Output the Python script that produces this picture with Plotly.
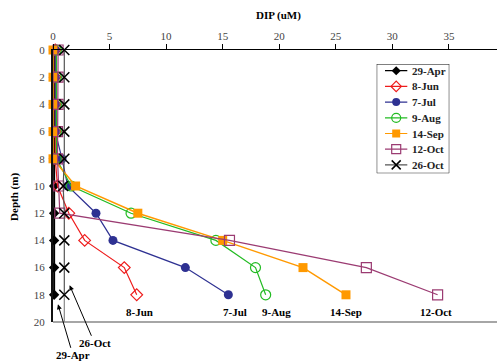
import plotly.graph_objects as go

# Sampling depths (m)
depths = [0, 2, 4, 6, 8, 10, 12, 14, 16, 18]

# Dissolved inorganic phosphorus (uM) per sampling date
apr29 = [0.1, 0.1, 0.1, 0.1, 0.1, 0.1, 0.1, 0.1, 0.1, 0.1]
jun8 = [0.2, 0.2, 0.2, 0.2, 0.2, 0.4, 1.4, 2.8, 6.3, 7.4]
jul7 = [0.2, 0.2, 0.2, 0.2, 0.8, 1.3, 3.8, 5.3, 11.7, 15.5]
aug9 = [0.3, 0.3, 0.3, 0.3, 0.3, 1.6, 6.9, 14.4, 17.9, 18.8]
sep14 = [0.0, 0.0, 0.0, 0.0, 0.0, 2.0, 7.5, 15.0, 22.1, 25.9]
oct12 = [0.45, 0.45, 0.45, 0.4, 0.4, 0.5, 0.6, 15.6, 27.7, 34.0]
oct26 = [1.0, 1.0, 1.0, 1.0, 1.0, 0.9, 1.0, 1.0, 1.0, 1.0]

x_ticks = [0, 5, 10, 15, 20, 25, 30, 35]
y_ticks = [0, 2, 4, 6, 8, 10, 12, 14, 16, 18, 20]

# Date labels placed beneath the deepest sample of each profile
bottom_labels = ["8-Jun", "7-Jul", "9-Aug", "14-Sep", "12-Oct"]
bottom_label_x = [7.65, 16.1, 19.8, 25.9, 33.9]

SERIF = "Liberation Serif, Times New Roman, serif"

series = [
    ("29-Apr", apr29, "#000000", dict(symbol="diamond", size=8, color="#000000"), 2),
    ("8-Jun", jun8, "#ee1c1c", dict(symbol="diamond-open", size=9, color="#ee1c1c", line=dict(width=1.2)), 1.2),
    ("7-Jul", jul7, "#2e3192", dict(symbol="circle", size=9, color="#2e3192"), 1.2),
    ("9-Aug", aug9, "#22bb22", dict(symbol="circle-open", size=10, color="#22bb22", line=dict(width=1.2)), 1.2),
    ("14-Sep", sep14, "#ff9900", dict(symbol="square", size=9, color="#ff9900"), 1.5),
    ("12-Oct", oct12, "#9b3b72", dict(symbol="square-open", size=10, color="#9b3b72", line=dict(width=1.2)), 1.2),
    ("26-Oct", oct26, "#555555", dict(symbol="x-thin-open", size=10, color="#000000", line=dict(width=1.5, color="#000000")), 1.2),
]

fig = go.Figure()
for name, vals, color, marker, lw in series:
    fig.add_trace(go.Scatter(
        x=vals, y=depths, name=name, mode="lines+markers",
        line=dict(color=color, width=lw), marker=marker, cliponaxis=False,
        showlegend=False,
    ))

# Compact boxed key drawn on its own hidden axes (units are pixels of the key box)
KEY_W, KEY_H = 72.6, 109.3
KEY_ROW0, KEY_ROW_STEP = 6.7, 15.7
for i, (name, vals, color, marker, lw) in enumerate(series):
    yk = KEY_ROW0 + i * KEY_ROW_STEP
    key_marker = dict(marker)
    key_marker["size"] = marker["size"] - 1
    fig.add_trace(go.Scatter(
        x=[8.3, 19.5, 30.6], y=[yk, yk, yk], mode="lines+markers",
        line=dict(color=color, width=1.2),
        marker=key_marker,
        selectedpoints=[1], unselected=dict(marker=dict(opacity=0)),
        xaxis="x2", yaxis="y2", showlegend=False, hoverinfo="skip", cliponaxis=False,
    ))

annotations = []
for i, (name, *_rest) in enumerate(series):
    annotations.append(dict(
        x=33.0, y=KEY_ROW0 + i * KEY_ROW_STEP, xref="x2", yref="y2", text=f"<b>{name}</b>",
        xanchor="left", yanchor="middle", showarrow=False,
        font=dict(family=SERIF, size=11, color="#222222"),
    ))

for txt, xv in zip(bottom_labels, bottom_label_x):
    annotations.append(dict(
        x=xv, y=19.3, xref="x", yref="y", text=f"<b>{txt}</b>", showarrow=False,
        font=dict(family=SERIF, size=11, color="#000000"),
    ))

# Arrow callouts for the two near-zero profiles
annotations.append(dict(
    x=1.47, y=17.3, xref="x", yref="y", text="<b>26-Oct</b>", showarrow=True,
    ax=25, ay=58, arrowhead=2, arrowsize=1, arrowwidth=1, arrowcolor="#000000",
    font=dict(family=SERIF, size=11, color="#000000"),
))
annotations.append(dict(
    x=0.44, y=18.7, xref="x", yref="y", text="<b>29-Apr</b>", showarrow=True,
    ax=15, ay=51, arrowhead=2, arrowsize=1, arrowwidth=1, arrowcolor="#000000",
    font=dict(family=SERIF, size=11, color="#000000"),
))

# Axis titles
annotations.append(dict(
    x=0.508, y=1.0, xref="paper", yref="paper", yshift=35, text="<b>DIP (uM)</b>",
    xanchor="center", yanchor="middle",
    showarrow=False, font=dict(family=SERIF, size=11, color="#000000"),
))
annotations.append(dict(
    x=0.0, y=0.46, xref="paper", yref="paper", xshift=-38, text="<b>Depth (m)</b>",
    xanchor="center", yanchor="middle",
    textangle=-90, showarrow=False, font=dict(family=SERIF, size=11, color="#000000"),
))

shapes = [
    # bottom frame line
    dict(type="line", xref="paper", yref="paper", x0=0, x1=1, y0=0, y1=0,
         line=dict(color="#888888", width=1.5)),
    # 26-Oct profile carried down to the bottom of the axis
    dict(type="line", xref="x", yref="y", x0=oct26[-1], x1=oct26[-1], y0=depths[-1], y1=y_ticks[-1],
         line=dict(color="#888888", width=1.2), layer="below"),
    # key frame
    dict(type="rect", xref="x2", yref="y2", x0=0, x1=KEY_W, y0=0, y1=KEY_H,
         line=dict(color="#000000", width=1), fillcolor="white", layer="below"),
]

PLOT_L, PLOT_T, PLOT_W, PLOT_H = 53, 50, 444, 272
KEY_X, KEY_Y = 376.7, 64.0

fig.update_layout(
    width=497, height=363,
    margin=dict(l=PLOT_L, r=0, t=PLOT_T, b=41),
    paper_bgcolor="white", plot_bgcolor="white",
    font=dict(family=SERIF, size=11, color="#444444"),
    showlegend=False,
    xaxis=dict(
        side="top", range=[0, 39.25], tickvals=x_ticks, showgrid=False, zeroline=False,
        showline=True, linecolor="#000000", linewidth=1,
        ticks="outside", ticklen=5, tickcolor="#000000", tickwidth=1,
        tickfont=dict(family=SERIF, size=11, color="#444444"),
    ),
    yaxis=dict(
        range=[20, 0], tickvals=y_ticks, showgrid=False, zeroline=False,
        showline=True, linecolor="#111111", linewidth=2,
        ticks="outside", ticklen=4, tickcolor="rgba(0,0,0,0)",
        tickfont=dict(family=SERIF, size=11, color="#444444"),
    ),
    xaxis2=dict(
        domain=[(KEY_X - PLOT_L) / PLOT_W, (KEY_X + KEY_W - PLOT_L) / PLOT_W],
        range=[0, KEY_W], visible=False, anchor="y2", fixedrange=True,
    ),
    yaxis2=dict(
        domain=[1 - (KEY_Y + KEY_H - PLOT_T) / PLOT_H, 1 - (KEY_Y - PLOT_T) / PLOT_H],
        range=[KEY_H, 0], visible=False, anchor="x2", fixedrange=True,
    ),
    annotations=annotations,
    shapes=shapes,
)

fig.write_html("out.html")
